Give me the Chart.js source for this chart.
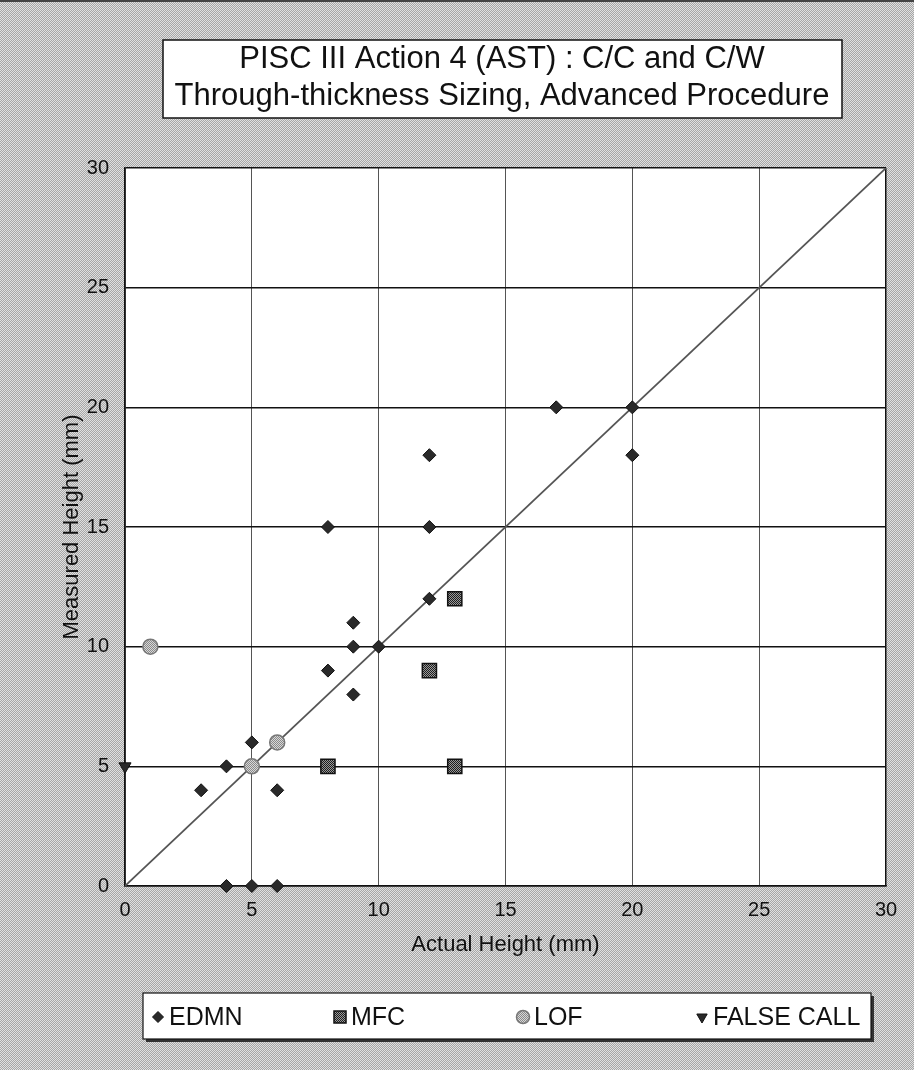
<!DOCTYPE html>
<html>
<head>
<meta charset="utf-8">
<script src="https://cdn.jsdelivr.net/npm/chart.js@4.4.0/dist/chart.umd.min.js"></script>
<style>
    html, body { margin: 0; padding: 0; }
    body {
        width: 914px; height: 1070px; overflow: hidden;
        background: repeating-conic-gradient(#a6a6a6 0 25%, #e0e0e0 0 50%) 0 0 / 2px 2px;
    }
    #wrap { position: relative; width: 914px; height: 1070px; }
</style>
</head>
<body>
<div id="wrap"><canvas id="sizingChart"></canvas></div>
<script>
const titleLines = ["PISC III Action 4 (AST) : C/C and C/W", "Through-thickness Sizing, Advanced Procedure"];
const xTitle = "Actual Height (mm)";
const yTitle = "Measured Height (mm)";
const axisMin = 0, axisMax = 30, axisStep = 5;

// actual vs measured heights (mm)
const edmnActual   = [3, 4, 5, 6, 4, 5, 6, 8, 8, 9, 9, 9, 10, 12, 12, 12, 17, 20, 20];
const edmnMeasured = [4, 5, 6, 4, 0, 0, 0, 9, 15, 8, 10, 11, 10, 12, 15, 18, 20, 20, 18];
const mfcActual   = [8, 12, 13, 13];
const mfcMeasured = [5, 9, 12, 5];
const lofActual   = [1, 5, 6];
const lofMeasured = [10, 5, 6];
const falseActual   = [0];
const falseMeasured = [5];
const perfectLine = [0, 30];
const seriesNames = ["EDMN", "MFC", "LOF", "FALSE CALL"];

const FONT = '"Liberation Sans", Arial, sans-serif';
Chart.defaults.font.family = FONT;
Chart.defaults.color = "#111";

function pts(xs, ys) {
    return xs.map((x, i) => ({ x: x, y: ys[i] }));
}

function dotPattern(dark, light) {
    let c = document.createElement("canvas");
    c.width = 2; c.height = 2;
    let g = c.getContext("2d");
    g.fillStyle = light; g.fillRect(0, 0, 2, 2);
    g.fillStyle = dark; g.fillRect(0, 0, 1, 1); g.fillRect(1, 1, 1, 1);
    return g.createPattern(c, "repeat");
}

const mfcFill = dotPattern("#1e1e1e", "#9a9a9a");
const lofFill = dotPattern("#8a8a8a", "#d8d8d8");

const markerStyles = [
    { pointStyle: "rectRot", radius: 6.5, rotation: 0, fill: "#2a2a2a", stroke: "#111", borderWidth: 1 },
    { pointStyle: "rect", radius: 10, rotation: 0, fill: mfcFill, stroke: "#111", borderWidth: 1.5 },
    { pointStyle: "circle", radius: 7.5, rotation: 0, fill: lofFill, stroke: "#777", borderWidth: 1.5 },
    { pointStyle: "triangle", radius: 7, rotation: 180, fill: "#2a2a2a", stroke: "#111", borderWidth: 1 }
];
const seriesData = [
    pts(edmnActual, edmnMeasured),
    pts(mfcActual, mfcMeasured),
    pts(lofActual, lofMeasured),
    pts(falseActual, falseMeasured)
];

let datasets = seriesNames.map((name, i) => ({
    label: name,
    data: seriesData[i],
    pointStyle: markerStyles[i].pointStyle,
    pointRadius: markerStyles[i].radius,
    pointRotation: markerStyles[i].rotation,
    backgroundColor: markerStyles[i].fill,
    borderColor: markerStyles[i].stroke,
    borderWidth: markerStyles[i].borderWidth,
    pointHoverRadius: markerStyles[i].radius,
    clip: false,
    order: i
}));

datasets.push({
    label: "y = x",
    data: pts(perfectLine, perfectLine),
    showLine: true,
    pointRadius: 0,
    borderColor: "#555",
    borderWidth: 1.7,
    order: 10
});

// white plot area, boxed title and legend
const framePlugin = {
    id: "frame",
    beforeDraw(chart) {
        let { ctx, chartArea: a } = chart;
        ctx.save();
        ctx.fillStyle = "#fff";
        ctx.fillRect(a.left, a.top, a.right - a.left, a.bottom - a.top);
        // dark edge along the top of the page
        ctx.fillStyle = "#444";
        ctx.fillRect(0, 0, chart.width, 2);
        ctx.restore();
    },
    afterDraw(chart) {
        let ctx = chart.ctx;
        ctx.save();

        // title box
        ctx.fillStyle = "#fff";
        ctx.fillRect(163, 40, 679, 78);
        ctx.strokeStyle = "#111";
        ctx.lineWidth = 1.5;
        ctx.strokeRect(163, 40, 679, 78);
        ctx.fillStyle = "#111";
        ctx.font = "31px " + FONT;
        ctx.textAlign = "center";
        ctx.textBaseline = "middle";
        ctx.fillText(titleLines[0], 502, 59);
        ctx.fillText(titleLines[1], 502, 96);

        // legend box
        ctx.fillStyle = "#333";
        ctx.fillRect(146, 996, 728, 46);
        ctx.fillStyle = "#fff";
        ctx.fillRect(143, 993, 728, 46);
        ctx.strokeStyle = "#111";
        ctx.lineWidth = 1.2;
        ctx.strokeRect(143, 993, 728, 46);

        const markX = [158, 340, 523, 702];
        const legendSize = [5.5, 8.5, 6.5, 6];
        ctx.font = "25px " + FONT;
        ctx.textAlign = "left";
        seriesNames.forEach((name, i) => {
            let m = markerStyles[i];
            ctx.fillStyle = m.fill;
            ctx.strokeStyle = m.stroke;
            ctx.lineWidth = m.borderWidth;
            Chart.helpers.drawPoint(ctx, {
                pointStyle: m.pointStyle, radius: legendSize[i],
                rotation: m.rotation, borderWidth: m.borderWidth
            }, markX[i], 1017);
            ctx.fillStyle = "#111";
            ctx.fillText(name, markX[i] + 11, 1018);
        });
        ctx.restore();
    }
};

let ctx = document.getElementById("sizingChart").getContext("2d");
let sizingChart = new Chart(ctx, {
    type: "scatter",
    data: { datasets: datasets },
    options: {
        responsive: true,
        maintainAspectRatio: false,
        animation: false,
        events: [],
        layout: { padding: { top: 168, right: 28, bottom: 104, left: 0 } },
        plugins: {
            legend: { display: false },
            title: { display: false },
            tooltip: { enabled: false }
        },
        scales: {
            x: {
                type: "linear",
                min: axisMin, max: axisMax,
                ticks: { stepSize: axisStep, padding: 12, font: { size: 20 }, color: "#111" },
                grid: {
                    drawTicks: false,
                    color: c => c.tick.value === axisMax ? "#111" : "#555",
                    lineWidth: c => c.tick.value === axisMax ? 1.5 : 1
                },
                border: { color: "#111", width: 1.5 },
                title: { display: true, text: xTitle, font: { size: 22 }, color: "#111", padding: { top: 0, bottom: 8 } },
                afterFit: s => { s.height = 80; }
            },
            y: {
                type: "linear",
                min: axisMin, max: axisMax,
                ticks: { stepSize: axisStep, padding: 16, font: { size: 20 }, color: "#111" },
                grid: { drawTicks: false, color: "#111", lineWidth: 1.5 },
                border: { color: "#111", width: 1.5 },
                title: { display: true, text: yTitle, font: { size: 22 }, color: "#111", padding: { top: 59, bottom: 0 } },
                afterFit: s => { s.width = 125; }
            }
        }
    },
    plugins: [framePlugin]
});
</script>
</body>
</html>
